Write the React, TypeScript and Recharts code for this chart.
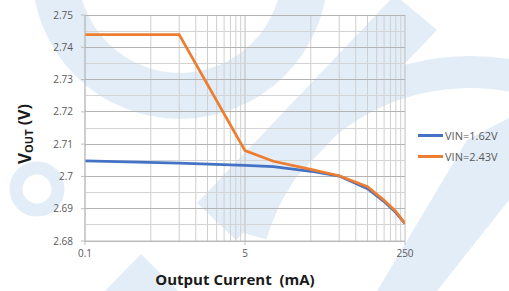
import React from 'react';
import { LineChart, Line, XAxis, YAxis, CartesianGrid } from 'recharts';

const currents = [0.1, 1, 5, 10, 25, 50, 100, 150, 200, 250];
const vin162 = [2.7048, 2.7041, 2.7034, 2.703, 2.7016, 2.7001, 2.6962, 2.6922, 2.6888, 2.6854];
const vin243 = [2.7439, 2.7439, 2.708, 2.7047, 2.7022, 2.7002, 2.6968, 2.6926, 2.6892, 2.6854];

const seriesNames = ['VIN=1.62V', 'VIN=2.43V'];
const seriesColors = ['#4472c4', '#ed7d31'];

const xTicks = [0.1, 5, 250];
const xMinor = [0.5, 1, 1.5, 2, 2.5, 3, 3.5, 4, 4.5, 25, 50, 75, 100, 125, 150, 175, 200, 225];
const yTicks = [2.68, 2.69, 2.7, 2.71, 2.72, 2.73, 2.74, 2.75];
const yMinor = [2.685, 2.695, 2.705, 2.715, 2.725, 2.735, 2.745];

const data = currents.map((c, i) => ({ current: c, a: vin162[i], b: vin243[i] }));
const xDomain = [xTicks[0], xTicks[xTicks.length - 1]];
const hLine = (v: number) => xDomain.map((c) => ({ current: c, g: v }));

const WM = '#e3edf7';

const Watermark = () => (
  <svg width={509} height={291} style={{ position: 'absolute', left: 0, top: 0 }}>
    <circle cx={180} cy={-29} r={125} fill="none" stroke={WM} strokeWidth={46} />
    <polygon points="395,-5 437,30 236,240 197,203" fill={WM} />
    <path d="M 251 235 A 228 228 0 0 1 667 186" fill="none" stroke={WM} strokeWidth={32} />
    <polygon points="467,140 509,118 509,200 437,291 377,291" fill={WM} />
    <circle cx={37} cy={189} r={21} fill="none" stroke={WM} strokeWidth={13} />
    <polygon points="105,291 141,254 178,291" fill={WM} />
  </svg>
);

const YTitle = (props: any) => {
  const vb = props.viewBox || { x: 0, y: 15, width: 85, height: 226 };
  const cx = 24;
  const cy = vb.y + vb.height / 2 + 6;
  return (
    <text
      x={cx}
      y={cy}
      transform={`rotate(-90 ${cx} ${cy})`}
      textAnchor="middle"
      dominantBaseline="central"
      fontWeight="bold"
      fill="#1a1a1a"
      fontFamily="Open Sans, sans-serif"
    >
      <tspan fontSize={17}>V</tspan>
      <tspan fontSize={11} dy={4}>OUT</tspan>
      <tspan fontSize={16} dy={-4}>{'\u00A0(V)'}</tspan>
    </text>
  );
};

const LegendBox = () => (
  <div style={{ position: 'absolute', left: 418, top: 124.5, width: 91 }}>
    {seriesNames.map((n, i) => (
      <div key={n} style={{ display: 'flex', alignItems: 'center', height: 21 }}>
        <span style={{ display: 'inline-block', width: 25, height: 3, background: seriesColors[i] }} />
        <span style={{ marginLeft: 2, fontSize: 11, color: '#595959', fontFamily: 'Open Sans, sans-serif' }}>{n}</span>
      </div>
    ))}
  </div>
);

const scaleOf = (axis: any) => {
  if (!axis) return null;
  const s = axis.scale;
  if (typeof s === 'function') return s;
  if (s && typeof s.map === 'function') return (v: number) => s.map(v);
  return null;
};

const vGen = (values: number[]) => (props: any) => {
  const s = scaleOf(props && props.xAxis);
  if (!s) return [];
  return values.map((v) => s(v)).filter((x: any) => typeof x === 'number' && !isNaN(x));
};

export default function App() {
  return (
    <div style={{ position: 'absolute', left: 0, top: 0, width: 509, height: 291, background: '#fff', overflow: 'hidden' }}>
      <Watermark />
      <div style={{ position: 'absolute', left: 0, top: 0 }}>
        <LineChart
          width={509}
          height={291}
          data={data}
          margin={{ top: 15, right: 104, bottom: 0, left: 0 }}
          style={{ fontFamily: 'Open Sans, sans-serif' }}
        >
          <CartesianGrid
            horizontal={false}
            verticalCoordinatesGenerator={vGen(xMinor)}
            stroke="#cfcfcf"
            strokeWidth={1}
            fill="none"
          />
          <CartesianGrid
            horizontal={false}
            verticalCoordinatesGenerator={vGen(xTicks)}
            stroke="#bdbdbd"
            strokeWidth={1}
            fill="none"
          />
          <XAxis
            dataKey="current"
            type="number"
            scale="log"
            domain={[0.1, 250]}
            ticks={xTicks}
            allowDataOverflow
            height={50}
            tickSize={4}
            tickMargin={5}
            tick={{ fill: '#595959', fontSize: 10 }}
            stroke="#bdbdbd"
            tickFormatter={(v: number) => String(v)}
            label={{
              value: 'Output Current\u00A0 (mA)',
              position: 'insideBottom',
              offset: 6,
              dx: -10,
              style: { fontWeight: 'bold', fontSize: 15, fill: '#1a1a1a' },
            }}
          />
          <YAxis
            type="number"
            domain={[2.68, 2.75]}
            ticks={yTicks}
            width={85}
            tickSize={4}
            tickMargin={8}
            tick={{ fill: '#595959', fontSize: 10 }}
            stroke="#bdbdbd"
            tickFormatter={(v: number) => String(v)}
            label={<YTitle />}
          />
          {yMinor.map((v) => (
            <Line
              key={'m' + v}
              data={hLine(v)}
              dataKey="g"
              stroke="#d4d4d4"
              strokeWidth={1}
              shapeRendering="crispEdges"
              dot={false}
              activeDot={false}
              legendType="none"
              isAnimationActive={false}
            />
          ))}
          {yTicks.map((v) => (
            <Line
              key={'t' + v}
              data={hLine(v)}
              dataKey="g"
              stroke="#b4b4b4"
              strokeWidth={1}
              shapeRendering="crispEdges"
              dot={false}
              activeDot={false}
              legendType="none"
              isAnimationActive={false}
            />
          ))}
          <Line
            type="linear"
            dataKey="a"
            name={seriesNames[0]}
            stroke={seriesColors[0]}
            strokeWidth={2.75}
            dot={false}
            isAnimationActive={false}
          />
          <Line
            type="linear"
            dataKey="b"
            name={seriesNames[1]}
            stroke={seriesColors[1]}
            strokeWidth={2.75}
            dot={false}
            isAnimationActive={false}
          />
        </LineChart>
      </div>
      <LegendBox />
    </div>
  );
}
